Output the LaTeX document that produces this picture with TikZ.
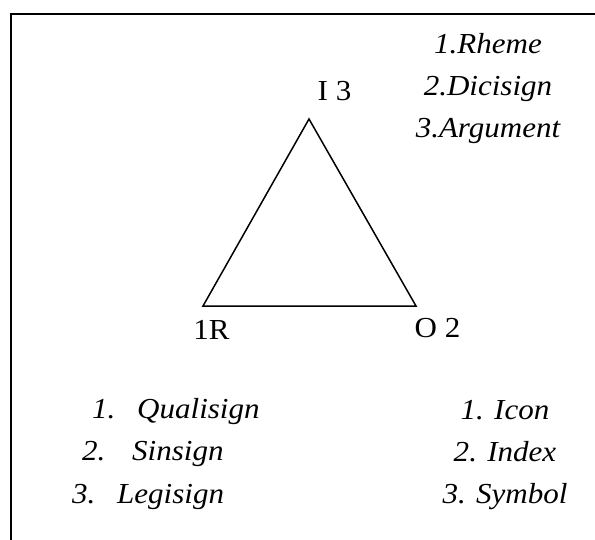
\documentclass[tikz,border=0pt]{standalone}
\usepackage{fontspec}
\setmainfont[FakeStretch=1.07]{Liberation Serif}
\usepackage{tikz}
\usetikzlibrary{positioning}

\begin{document}
\begin{tikzpicture}[
    x=1pt, y=-1pt,
    font=\fontsize{29}{42}\selectfont,
    frame/.style={line width=2pt, line cap=rect},
    edge/.style={line width=1.5pt, line join=miter},
    vlbl/.style={inner sep=0pt, anchor=base},
    lst/.style={inner sep=0pt, anchor=base, align=center, font=\fontsize{29}{42}\selectfont\itshape},
    item/.style={inner sep=0pt, anchor=base west, font=\fontsize{29}{42}\selectfont\itshape}
]
\useasboundingbox (0,0) rectangle (595,539);

% --- open frame (top and left side) ---
\draw[frame] (595,14) -- (11,14) -- (11,539);

% --- triangle corners ---
\coordinate (interp) at (309,119);
\coordinate (repr)   at (203,306);
\coordinate (obj)    at (416,306);
\draw[edge] (interp) -- (repr) -- (obj) -- cycle;

% --- corner labels ---
\node[vlbl] (ilbl) at (334.5,100) {I 3};
\node[vlbl] (rlbl) at (211.5,339) {1R};
\node[vlbl] (olbl) at (437.5,337) {O 2};

% --- interpretant list (base = last line) ---
\node[lst] (ilist) at (488,137) {1.Rheme\\2.Dicisign\\3.Argument};

% --- representamen list ---
\node[item] (q1) at (92,418) {\makebox[45pt][l]{1.}Qualisign};
\node[item] (q2) at (82,460) {\makebox[50pt][l]{2.}Sinsign};
\node[item] (q3) at (72,503) {\makebox[45pt][l]{3.}Legisign};

% --- object list (base = last line) ---
\node[lst] (olist) at (505,503) {1. Icon\\2. Index\\3. Symbol};

\end{tikzpicture}
\end{document}
